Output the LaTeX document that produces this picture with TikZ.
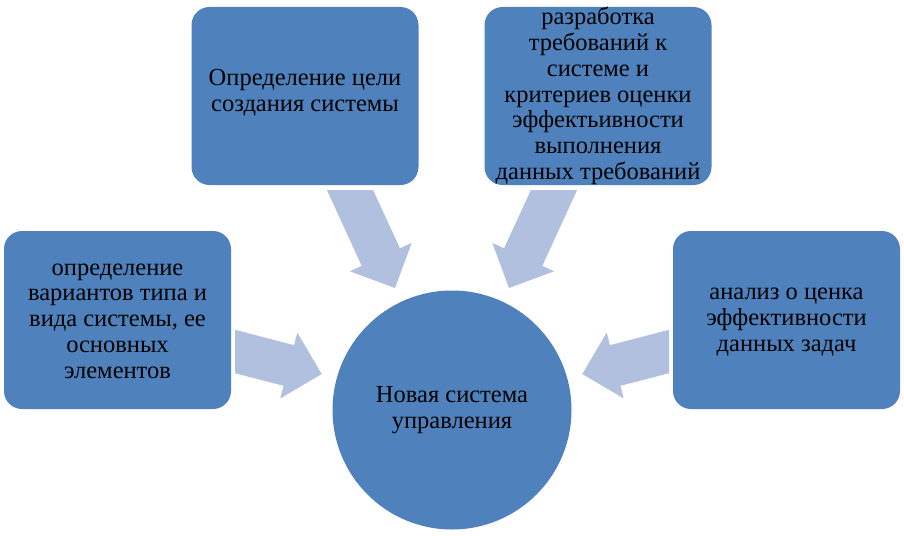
\documentclass[tikz,border=0pt]{standalone}
\usepackage{fontspec}
\setmainfont{Liberation Serif}
\definecolor{boxblue}{RGB}{79,129,189}
\definecolor{arrowblue}{RGB}{176,192,222}
\begin{document}
\begin{tikzpicture}[x=1pt,y={(0pt,-1pt)},
  lbl/.style={font=\fontsize{24.5}{25.8}\selectfont, align=center, text=black},
  boxnode/.style={fill=boxblue, draw=none, rounded corners=18pt, minimum width=227pt, minimum height=178pt, inner sep=0pt},
  hub/.style={circle, fill=boxblue, draw=none, minimum size=239pt, inner sep=0pt},
  blockarrow/.style={fill=arrowblue, draw=none}]
\useasboundingbox (0,0) rectangle (904,535);
% boxes
\node[boxnode] (goal) at (305,96) {};
\node[boxnode] (req) at (598,96) {};
\node[boxnode] (var) at (117.5,320) {};
\node[boxnode] (anal) at (786.5,320) {};
\node[hub] (new) at (452,410) {};
% texts
\node[lbl] (goalt) at (305,93) {Определение цели\\создания системы};
\node[lbl] (reqt) at (598,96) {разработка\\требований к\\системе и\\критериев оценки\\эффектьивности\\выполнения\\данных требований};
\node[lbl] (vart) at (117.5,321) {определение\\вариантов типа и\\вида системы, ее\\основных\\элементов};
\node[lbl] (analt) at (786.5,322) {анализ о ценка\\эффективности\\данных задач};
\node[lbl] (newt) at (452,410) {Новая система\\управления};
% block arrows
\fill[blockarrow] (326.9,190) -- (361.7,265.9) -- (349.9,271.3) -- (395,288) -- (411.7,242.9) -- (399.9,248.3) -- (373.1,190) -- cycle;
\fill[blockarrow] (577.1,190) -- (542.3,265.9) -- (554.1,271.3) -- (509,288) -- (492.3,242.9) -- (504.1,248.3) -- (530.9,190) -- cycle;
\fill[blockarrow] (235,329.8) -- (294.1,345.2) -- (297.3,332.6) -- (321.7,374) -- (280.3,398.4) -- (283.5,385.8) -- (235,373.2) -- cycle;
\fill[blockarrow] (669,329.8) -- (609.9,345.2) -- (606.7,332.6) -- (582.3,374) -- (623.7,398.4) -- (620.5,385.8) -- (669,373.2) -- cycle;
\end{tikzpicture}
\end{document}
